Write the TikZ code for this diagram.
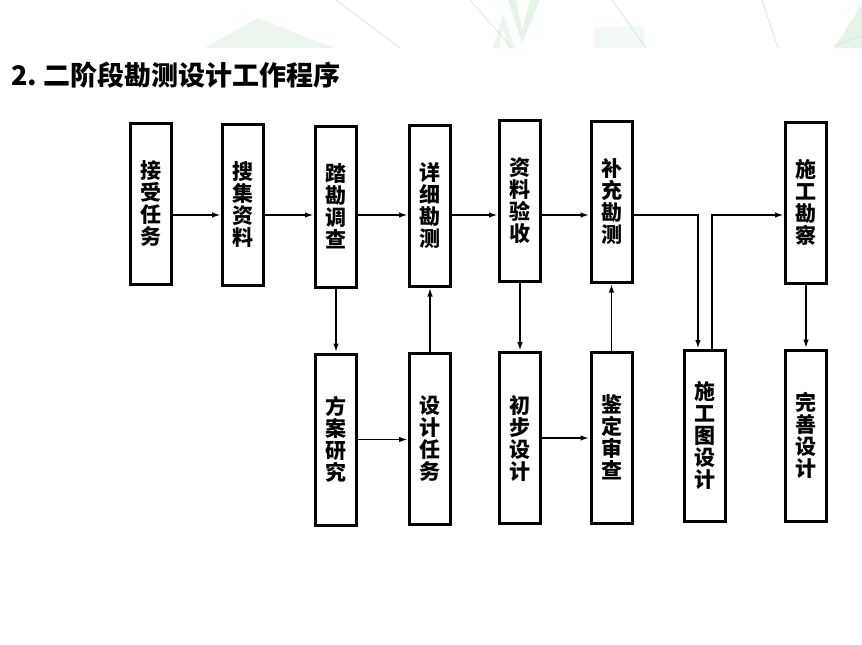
\documentclass[tikz,border=0pt]{standalone}
\usepackage{fontspec}
\newfontfamily\cjk{Noto Sans CJK SC}
\usetikzlibrary{arrows.meta}
\definecolor{decogreen}{HTML}{D6ECD9}
\definecolor{decoline}{HTML}{CFE2D6}
\begin{document}
\begin{tikzpicture}
[x=1pt,y=-1pt,
 stagebox/.style={draw,line width=3pt,minimum width=41pt,inner sep=0pt,align=center,
   font=\cjk\bfseries\fontsize{21}{22}\selectfont},
 linkline/.style={line width=1.8pt,-{Latex[length=9pt,width=5.5pt]}}]
\useasboundingbox (0,0) rectangle (862,645);
%% faint slide decoration at the top
\fill[decogreen,opacity=0.45] (205,48) -- (258,18) -- (300,35) -- (335,48) -- cycle;
\fill[decogreen,opacity=0.6] (508,0) -- (522,43) -- (540,0) -- (530,0) -- (522,30) -- (516,0) -- cycle;
\fill[decogreen,opacity=0.5] (493,48) -- (503,14) -- (515,48) -- (508,48) -- (503,28) -- (499,48) -- cycle;
\fill[decogreen,opacity=0.3] (594,27) rectangle (644,48);
\fill[decogreen,opacity=0.6] (834,48) -- (862,4) -- (862,48) -- cycle;
\draw[decoline,line width=0.6pt] (336,0) -- (400,48);
\draw[decoline,line width=0.6pt] (470,0) -- (512,48);
\draw[decoline,line width=0.6pt] (612,0) -- (646,48);
\draw[decoline,line width=0.6pt] (762,0) -- (778,48);
\draw[decoline,line width=0.6pt] (834,46) -- (862,36);
%% title
\node[anchor=west,inner sep=0pt,font=\cjk\bfseries\fontsize{27}{27}\selectfont] (title)
  at (11,75) {2.\hspace{6pt}二阶段勘测设计工作程序};
%% top row
\foreach \name/\x/\y/\txt in {jieshou/150.5/203.5/接\\受\\任\\务, souji/243/204.5/搜\\集\\资\\料,
    takan/336/206.5/踏\\勘\\调\\查, xiangxi/430/205.5/详\\细\\勘\\测,
    yanshou/520/200.5/资\\料\\验\\收, buchong/611.5/201.5/补\\充\\勘\\测,
    kancha/806/202.5/施\\工\\勘\\察}
  \node[stagebox,minimum height=161pt] (\name) at (\x,\y) {\txt};
%% bottom row
\foreach \name/\x/\y/\txt in {fangan/336/439.5/方\\案\\研\\究, renwu/430/438.5/设\\计\\任\\务,
    chubu/520/438/初\\步\\设\\计, jianding/611.5/437.5/鉴\\定\\审\\查,
    shigongtu/705/436/施\\工\\图\\设\\计, wanshan/806/435.5/完\\善\\设\\计}
  \node[stagebox,minimum height=171pt] (\name) at (\x,\y) {\txt};
\coordinate (toprow) at (0,215);
\foreach \a/\b in {jieshou/souji, souji/takan, takan/xiangxi, xiangxi/yanshou, yanshou/buchong}
  \draw[linkline] (\a.east |- toprow) -- (\b.west |- toprow);
\draw[linkline] (fangan.east) -- (renwu.west |- fangan.east);
\draw[linkline] (chubu.east) -- (jianding.west |- chubu.east);
\draw[linkline] (takan.south) -- (takan.south |- fangan.north);
\draw[linkline] (renwu.north) -- (renwu.north |- xiangxi.south);
\draw[linkline] (yanshou.south) -- (yanshou.south |- chubu.north);
\draw[linkline] (jianding.north) -- (jianding.north |- buchong.south);
\draw[linkline] (kancha.south) -- (kancha.south |- wanshan.north);
\draw[linkline] (buchong.east |- toprow) -| ([xshift=-7pt]shigongtu.north);
\draw[linkline] ([xshift=7pt]shigongtu.north) |- (kancha.west |- toprow);
\end{tikzpicture}
\end{document}
